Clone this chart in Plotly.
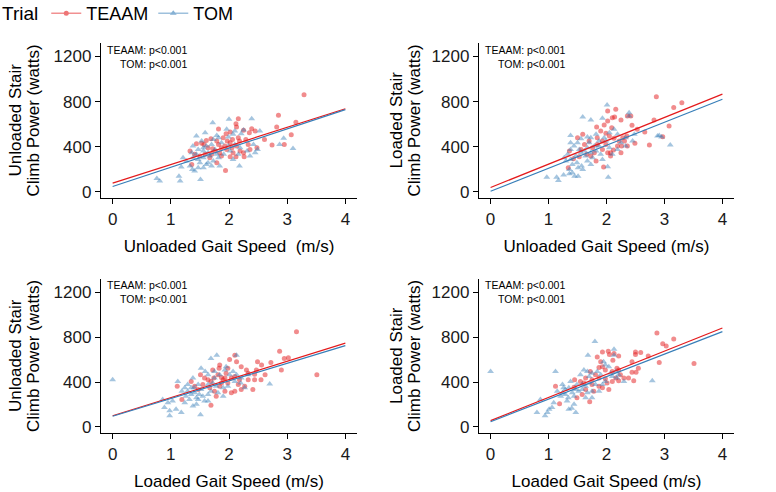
import plotly.graph_objects as go

# ---------------- data ----------------
# Panel 1: Unloaded gait speed vs unloaded stair climb power
p1_teaam_x = [3.29, 2.85, 3.15, 3.07, 2.95, 2.74, 2.82, 2.61, 2.16, 2.12, 2.13, 1.82, 2.02, 1.95, 2.39, 2.45, 2.35, 2.25, 2.29, 2.18,
              2.06, 1.97, 1.90, 1.79, 1.69, 1.61, 1.53, 1.44, 1.33, 1.36, 1.57, 1.72, 1.84, 1.96, 2.05, 2.13, 2.25, 2.33, 2.36, 2.26,
              2.12, 2.02, 1.87, 1.79, 1.67, 1.59, 1.50, 1.94, 2.19, 2.07, 2.48, 1.87, 2.02, 1.82, 1.76, 1.64, 1.41, 1.70, 2.16, 1.93]
p1_teaam_y = [860, 678, 616, 507, 420, 415, 575, 465, 649, 604, 575, 557, 530, 515, 560, 540, 524, 545, 465, 450,
              465, 450, 480, 450, 470, 456, 430, 427, 362, 243, 420, 382, 347, 376, 391, 406, 347, 420, 376, 311,
              311, 311, 317, 258, 302, 332, 317, 190, 362, 347, 391, 391, 436, 420, 362, 391, 332, 332, 480, 406]
p1_tom_x = [0.76, 0.81, 1.14, 1.16, 1.51, 1.41, 1.18, 1.33, 1.56, 1.72, 2.00, 2.39, 1.59, 1.79, 2.21, 2.25, 2.53, 2.94, 3.10, 2.87,
            2.42, 2.49, 2.18, 2.07, 1.38, 1.47, 1.56, 1.64, 1.70, 1.73, 1.82, 1.87, 1.99, 2.07, 1.96, 2.10, 2.19, 2.31, 2.02, 1.91,
            1.82, 1.73, 1.64, 1.56, 1.47, 1.38, 1.36, 1.44, 1.50, 1.61, 1.70, 1.84, 1.27, 1.21, 1.53, 1.61, 1.76, 1.67, 1.56, 1.99,
            2.16, 2.36, 1.79, 1.47, 1.37, 2.45, 2.10, 1.44]
p1_tom_y = [118, 95, 139, 95, 110, 184, 220, 228, 213, 613, 643, 649, 524, 500, 515, 548, 540, 474, 385, 420,
            420, 376, 228, 287, 406, 376, 362, 347, 420, 465, 480, 436, 486, 510, 554, 420, 391, 362, 362, 332,
            302, 273, 258, 302, 287, 302, 347, 332, 258, 243, 228, 228, 273, 302, 450, 406, 376, 317, 391, 406,
            332, 317, 332, 213, 198, 347, 540, 495]

# Panel 2: Unloaded gait speed vs loaded stair climb power
p2_teaam_x = [2.86, 3.30, 3.16, 3.08, 2.97, 2.74, 2.82, 2.66, 2.49, 2.44, 2.36, 2.42, 2.16, 2.14, 2.10, 2.02, 1.96, 1.83, 2.25, 1.90,
              1.99, 2.05, 2.13, 2.28, 2.35, 2.31, 2.19, 2.26, 2.36, 2.12, 2.07, 2.25, 1.93, 1.84, 1.76, 1.70, 1.62, 1.56, 1.59, 1.50,
              1.36, 1.43, 1.34, 1.66, 1.82, 1.95, 2.02, 1.93, 1.84, 1.73, 1.79, 1.99, 2.09, 2.53, 2.02, 2.07, 2.22, 1.53]
p2_teaam_y = [844, 791, 747, 584, 489, 415, 637, 530, 430, 590, 673, 673, 732, 664, 658, 628, 593, 575, 637, 540,
              519, 495, 474, 480, 495, 450, 406, 406, 406, 370, 347, 347, 376, 420, 391, 450, 420, 376, 510, 480,
              362, 293, 213, 332, 273, 220, 347, 450, 480, 317, 347, 420, 569, 554, 717, 317, 450, 311]
p2_tom_x = [0.97, 1.14, 1.17, 1.26, 1.36, 1.41, 1.45, 1.51, 2.03, 2.02, 2.01, 1.59, 1.73, 1.93, 2.39, 2.39, 1.38, 1.56, 1.67, 1.73,
            1.50, 1.38, 1.33, 1.27, 1.38, 1.47, 1.49, 1.57, 1.59, 1.51, 1.41, 1.36, 1.67, 1.73, 1.82, 1.87, 1.79, 1.67, 1.62, 1.53,
            1.64, 1.76, 1.90, 1.96, 1.87, 1.99, 2.13, 2.19, 2.33, 2.45, 2.33, 2.19, 2.05, 2.10, 1.93, 2.88, 2.95, 3.10, 2.91, 1.70,
            1.82, 2.05, 1.44, 1.38, 1.30, 1.73, 2.25, 1.56, 2.48]
p2_tom_y = [130, 130, 100, 148, 160, 169, 139, 139, 130, 222, 770, 664, 637, 652, 702, 673, 500, 471, 486, 480,
            436, 376, 332, 302, 287, 317, 258, 228, 198, 213, 243, 198, 273, 347, 362, 406, 406, 391, 362, 376,
            317, 302, 332, 480, 450, 450, 554, 510, 480, 450, 406, 376, 391, 332, 287, 495, 486, 415, 500, 436,
            510, 524, 406, 436, 273, 243, 436, 347, 510]

# Panel 3: Loaded gait speed vs unloaded stair climb power
p3_teaam_x = [3.16, 3.51, 2.87, 3.02, 2.95, 2.90, 2.72, 2.49, 2.56, 2.47, 2.55, 2.44, 2.33, 2.30, 2.21, 2.10, 2.13, 2.01, 1.98, 1.84,
              1.83, 1.72, 1.87, 1.93, 1.90, 2.04, 2.10, 2.18, 2.27, 2.16, 2.21, 2.04, 1.93, 1.84, 1.75, 1.67, 1.64, 1.58, 1.55, 1.47,
              1.41, 1.35, 1.11, 1.19, 1.69, 1.78, 1.69, 1.74, 1.81, 2.33, 2.41, 2.10, 1.98, 1.95, 2.44, 2.62, 1.51, 1.87]
p3_teaam_y = [849, 464, 674, 616, 610, 508, 575, 581, 552, 508, 420, 420, 420, 508, 537, 639, 581, 601, 523, 552,
              523, 508, 440, 435, 420, 435, 449, 420, 362, 377, 333, 304, 318, 362, 318, 348, 420, 435, 377, 333,
              362, 405, 362, 245, 193, 274, 405, 435, 464, 479, 333, 318, 391, 479, 470, 464, 464, 391]
p3_tom_x = [0.00, 0.98, 0.98, 0.89, 1.09, 1.18, 1.38, 1.51, 0.86, 0.95, 1.03, 1.12, 1.24, 1.29, 1.35, 1.32, 1.44, 1.41, 1.49, 1.55,
            1.64, 1.52, 1.47, 1.38, 1.52, 1.69, 1.79, 1.64, 1.75, 1.72, 1.64, 1.78, 1.90, 1.98, 1.93, 1.95, 2.07, 2.13, 2.13, 2.27,
            2.20, 2.10, 2.33, 2.70, 1.81, 1.90, 1.58, 1.44, 1.24, 1.35, 1.26, 1.69, 1.59, 1.84, 1.40, 1.29, 1.47, 1.64, 2.01, 2.21,
            1.19, 1.75]
p3_tom_y = [420, 99, 143, 172, 158, 129, 187, 108, 245, 216, 230, 405, 348, 318, 289, 245, 260, 304, 289, 274,
            289, 333, 377, 435, 523, 610, 639, 464, 435, 391, 377, 362, 348, 362, 508, 537, 493, 639, 464, 348,
            391, 405, 464, 383, 304, 274, 230, 201, 216, 348, 274, 318, 493, 464, 348, 377, 245, 230, 464, 435,
            318, 493]

# Panel 4: Loaded gait speed vs loaded stair climb power
p4_teaam_x = [2.87, 3.16, 2.97, 3.03, 3.51, 2.91, 2.72, 2.59, 2.50, 2.50, 2.44, 2.55, 2.44, 2.51, 2.47, 2.30, 2.21, 2.13, 2.05, 2.03,
              2.11, 1.93, 1.90, 1.84, 1.93, 1.87, 1.98, 2.18, 2.21, 2.10, 2.16, 2.21, 2.10, 1.98, 1.87, 1.81, 1.75, 1.64, 1.61, 1.55,
              1.87, 1.93, 2.04, 2.01, 1.75, 1.45, 1.44, 1.58, 1.49, 1.19, 1.12, 1.71, 1.64, 2.24, 2.38, 1.72, 1.78]
p4_teaam_y = [838, 785, 741, 721, 566, 575, 633, 663, 668, 645, 581, 523, 488, 488, 412, 435, 633, 654, 645, 674,
              595, 668, 581, 624, 537, 529, 508, 523, 508, 493, 435, 412, 405, 429, 435, 464, 420, 435, 391, 405,
              362, 348, 333, 391, 377, 420, 353, 289, 260, 207, 362, 225, 333, 464, 435, 493, 318]
p4_tom_x = [0.00, 1.80, 1.68, 1.12, 2.13, 2.13, 2.79, 0.80, 0.94, 0.98, 1.01, 1.06, 0.86, 1.09, 1.35, 1.40, 1.47, 1.34, 1.24, 1.29,
            1.24, 1.35, 1.41, 1.44, 1.52, 1.58, 1.67, 1.75, 1.64, 1.70, 1.81, 1.61, 1.67, 1.75, 1.84, 1.95, 1.98, 1.90, 2.07, 2.10,
            2.18, 2.16, 2.30, 1.98, 1.93, 1.70, 1.55, 1.49, 1.38, 1.32, 1.44, 1.21, 1.64, 1.75, 1.87, 1.26, 1.47, 1.58, 2.04, 2.21,
            1.15, 1.29]
p4_tom_y = [493, 762, 639, 493, 692, 639, 412, 129, 99, 129, 158, 172, 245, 216, 158, 166, 129, 260, 304, 333,
            377, 348, 304, 274, 318, 333, 304, 318, 362, 391, 377, 508, 493, 479, 493, 581, 552, 464, 479, 449,
            435, 493, 405, 405, 377, 449, 464, 377, 405, 230, 201, 274, 260, 260, 318, 348, 333, 377, 537, 464,
            318, 289]

# fitted regression lines (intercept, slope) per panel
teaam_intercepts = [77, 38, 99, 55]
teaam_slopes = [165, 207, 162, 207]
tom_intercepts = [47, 5, 95, 46]
tom_slopes = [170.5, 204, 157.5, 201]

x_titles = ["Unloaded Gait Speed  (m/s)", "Unloaded Gait Speed (m/s)",
            "Loaded Gait Speed (m/s)", "Loaded Gait Speed (m/s)"]
y_titles = [("Unloaded Stair", "Climb Power (watts)"), ("Loaded Stair", "Climb Power (watts)"),
            ("Unloaded Stair", "Climb Power (watts)"), ("Loaded Stair", "Climb Power (watts)")]
p_label = "TEAAM: p<0.001<br>TOM: p<0.001"
x_ticks = [0, 1, 2, 3, 4]
y_ticks = [0, 400, 800, 1200]
line_x = [0, 4]

teaam_x = [p1_teaam_x, p2_teaam_x, p3_teaam_x, p4_teaam_x]
teaam_y = [p1_teaam_y, p2_teaam_y, p3_teaam_y, p4_teaam_y]
tom_x = [p1_tom_x, p2_tom_x, p3_tom_x, p4_tom_x]
tom_y = [p1_tom_y, p2_tom_y, p3_tom_y, p4_tom_y]

# ---------------- styling / layout ----------------
W, H = 776, 492
RED = "#E41A1C"
BLUE = "#377EB8"
FONT = "Liberation Sans, Arial, sans-serif"

# panel pixel boxes: (left, right, top, bottom)
boxes = [(101, 357, 43, 198), (479, 734, 43, 198),
         (101, 357, 279, 433), (479, 734, 279, 433)]

fig = go.Figure()

for i in range(4):
    xa = "x" if i == 0 else f"x{i+1}"
    ya = "y" if i == 0 else f"y{i+1}"
    fig.add_trace(go.Scatter(x=teaam_x[i], y=teaam_y[i], mode="markers", xaxis=xa, yaxis=ya,
                             marker=dict(symbol="circle", size=5, color=RED, opacity=0.5, line=dict(width=0)),
                             showlegend=False, hoverinfo="skip"))
    fig.add_trace(go.Scatter(x=tom_x[i], y=tom_y[i], mode="markers", xaxis=xa, yaxis=ya,
                             marker=dict(symbol="triangle-up", size=6, color=BLUE, opacity=0.45, line=dict(width=0)),
                             showlegend=False, hoverinfo="skip"))
    fig.add_trace(go.Scatter(x=line_x, y=[teaam_intercepts[i] + teaam_slopes[i] * v for v in line_x],
                             mode="lines", xaxis=xa, yaxis=ya, line=dict(color=RED, width=1.2),
                             showlegend=False, hoverinfo="skip"))
    fig.add_trace(go.Scatter(x=line_x, y=[tom_intercepts[i] + tom_slopes[i] * v for v in line_x],
                             mode="lines", xaxis=xa, yaxis=ya, line=dict(color=BLUE, width=1.2),
                             showlegend=False, hoverinfo="skip"))

# legend keys
fig.add_trace(go.Scatter(x=[None], y=[None], mode="lines+markers", name="TEAAM",
                         line=dict(color=RED, width=1.2), opacity=0.6,
                         marker=dict(symbol="circle", size=5, color=RED)))
fig.add_trace(go.Scatter(x=[None], y=[None], mode="lines+markers", name="TOM",
                         line=dict(color=BLUE, width=1.2), opacity=0.6,
                         marker=dict(symbol="triangle-up", size=6, color=BLUE)))

layout = dict(
    width=W, height=H,
    margin=dict(l=0, r=0, t=0, b=0, autoexpand=False),
    paper_bgcolor="white", plot_bgcolor="white",
    font=dict(family=FONT, color="black"),
    legend=dict(orientation="h", x=0, xanchor="left", y=1 + 5 / H, yanchor="top",
                title=dict(text="Trial", font=dict(size=19, family=FONT, color="black")),
                font=dict(size=18, family=FONT, color="black"),
                itemwidth=30, tracegroupgap=0, bgcolor="rgba(0,0,0,0)"),
    annotations=[],
)

for i, (l, r, t, b) in enumerate(boxes):
    sx = "" if i == 0 else str(i + 1)
    layout["xaxis" + sx] = dict(
        domain=[l / W, r / W], anchor="y" + sx, range=[-0.2, 4.2], automargin=False,
        tickvals=x_ticks, ticks="outside", ticklen=5, tickwidth=1.2, tickcolor="black",
        showline=True, linecolor="black", linewidth=1.3, showgrid=False, zeroline=False,
        tickfont=dict(size=17, family=FONT, color="#1a1a1a"),
        title=dict(text=x_titles[i], font=dict(size=17, family=FONT, color="black"), standoff=12),
    )
    layout["yaxis" + sx] = dict(
        domain=[1 - b / H, 1 - t / H], anchor="x" + sx, range=[-55, 1320], automargin=False,
        tickvals=y_ticks, ticks="outside", ticklen=5, tickwidth=1.2, tickcolor="black",
        showline=True, linecolor="black", linewidth=1.3, showgrid=False, zeroline=False,
        tickfont=dict(size=17, family=FONT, color="#1a1a1a"),
    )
    # y-axis titles (two lines)
    x1 = 15 if i % 2 == 0 else 396
    for k, txt in enumerate(y_titles[i]):
        layout["annotations"].append(dict(
            text=txt, textangle=-90, xref="paper", yref="paper",
            x=(x1 + 18 * k) / W, y=1 - (t + b) / 2 / H, xanchor="center", yanchor="middle",
            showarrow=False, font=dict(size=17, family=FONT, color="black")))
    # p-value labels
    xr = 189 if i % 2 == 0 else 567
    yc = 57 if i < 2 else 292
    layout["annotations"].append(dict(
        text=p_label, xref="paper", yref="paper", align="right",
        x=xr / W, y=1 - yc / H, xanchor="right", yanchor="middle",
        showarrow=False, font=dict(size=10.5, family=FONT, color="black")))

fig.update_layout(**layout)
fig.write_html("out.html", config={"displayModeBar": False},
               post_script="document.body.style.margin='0';document.body.style.overflow='hidden';")
